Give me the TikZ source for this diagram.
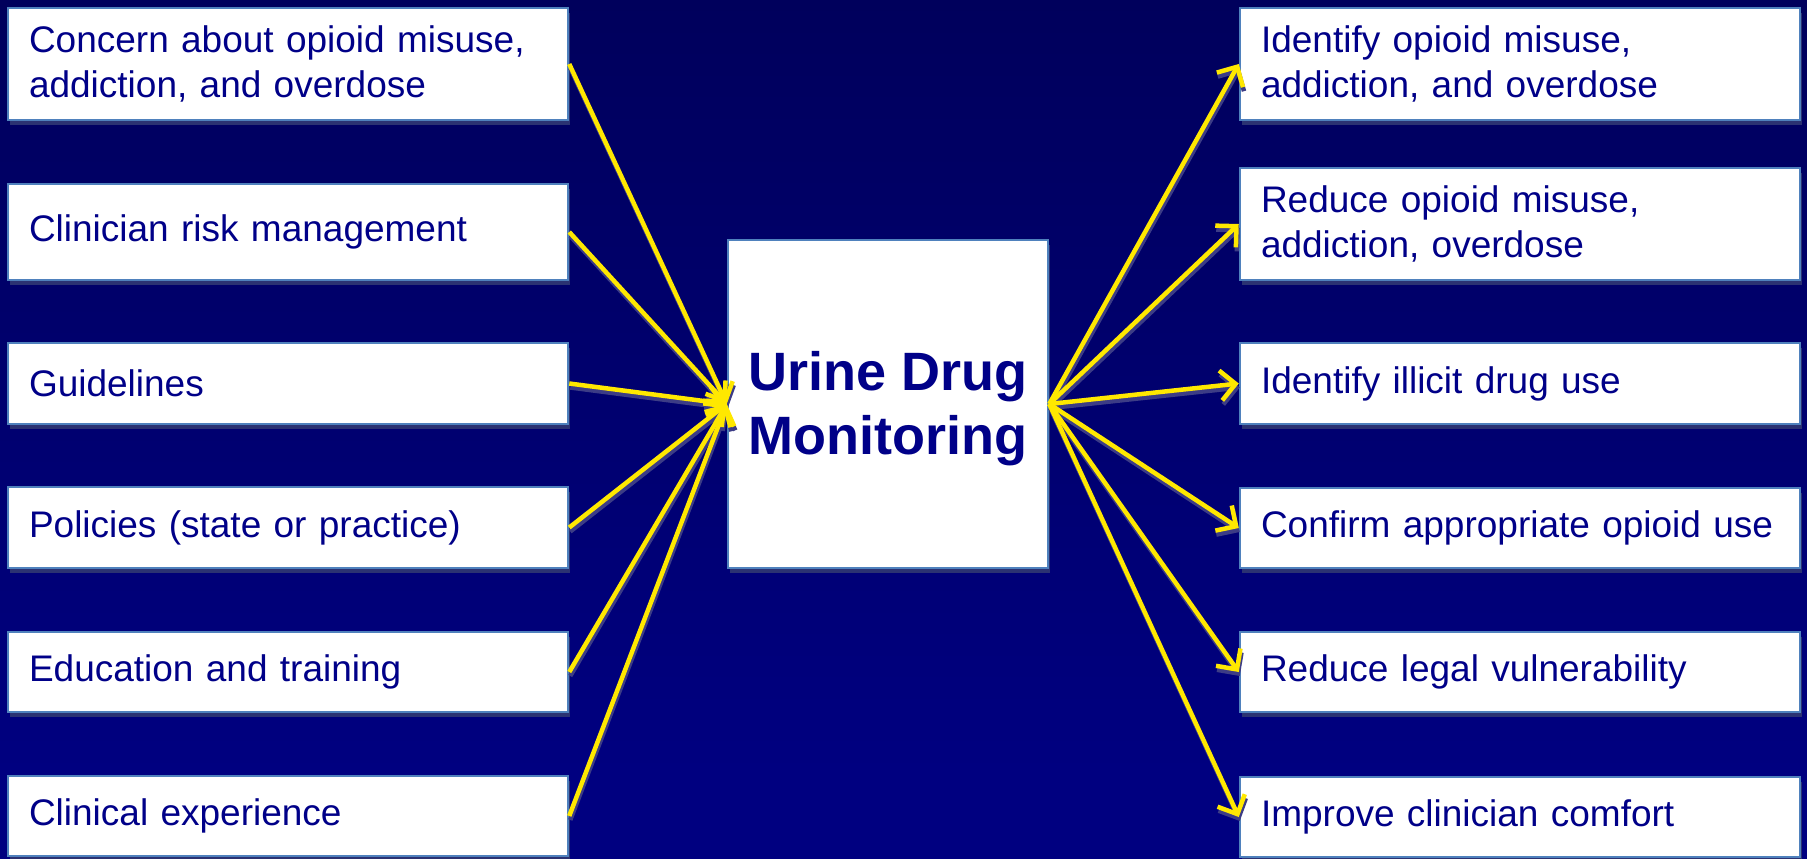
\documentclass[tikz,border=0pt]{standalone}
\usepackage{fontspec}
\setmainfont{Liberation Sans}
\usetikzlibrary{arrows.meta,shadows}

\definecolor{bgtop}{HTML}{000048}
\definecolor{bgbot}{HTML}{000080}
\definecolor{boxline}{HTML}{4F81BD}
\definecolor{boxshade}{HTML}{2B3272}
\definecolor{ink}{HTML}{000088}
\definecolor{ray}{HTML}{FFE800}
\definecolor{rayshade}{HTML}{3C3C86}

\pgfdeclareverticalshading{slidebg}{100bp}{%
  color(0bp)=(bgbot); color(30bp)=(bgbot); color(100bp)=(bgtop)}

\tikzset{
  factor/.style={draw=boxline, line width=2.5pt, fill=white, rectangle,
    minimum width=560pt, text width=518pt, inner xsep=21pt, inner ysep=0pt,
    align=left, text=ink, font=\fontsize{37}{45}\selectfont,
    general shadow={fill=boxshade, shadow xshift=1.5pt, shadow yshift=-5pt}},
  hub/.style={draw=boxline, line width=2.5pt, fill=white, rectangle,
    minimum width=320pt, minimum height=328pt, text=ink,
    font=\fontsize{54}{64}\selectfont\bfseries,
    general shadow={fill=boxshade, shadow xshift=1.5pt, shadow yshift=-5pt}},
  link/.style={draw=ray, line width=4.5pt,
    -{Straight Barb[length=15pt,width=30pt,line width=4.5pt]}},
  linkshade/.style={draw=rayshade, line width=4.5pt,
    -{Straight Barb[length=15pt,width=30pt,line width=4.5pt]},
    transform canvas={shift={(1pt,-4pt)}}}
}

\begin{document}
\begin{tikzpicture}[x=1pt,y=-1pt]
  % slide background
  \shade[shading=slidebg] (0,0) rectangle (1807,859);
  \useasboundingbox (0,0) rectangle (1807,859);

  % central box (title set a little below the box centre)
  \node[hub] (udm) at (888,404)
    {\raisebox{-6pt}[\height][\depth]{\begin{tabular}{@{}c@{}}Urine Drug\\Monitoring\end{tabular}}};

  % drivers (left column)
  \node[factor, minimum height=112pt] (l1) at (288,64)
    {Concern about opioid misuse,\\addiction, and overdose};
  \node[factor, minimum height=96pt] (l2) at (288,232)
    {Clinician risk management};
  \node[factor, minimum height=81pt] (l3) at (288,383.5)
    {Guidelines};
  \node[factor, minimum height=81pt] (l4) at (288,527.5)
    {Policies (state or practice)};
  \node[factor, minimum height=80pt] (l5) at (288,672)
    {Education and training};
  \node[factor, minimum height=80pt] (l6) at (288,816)
    {Clinical experience};

  % goals (right column)
  \node[factor, minimum height=112pt] (r1) at (1520,64)
    {Identify opioid misuse,\\addiction, and overdose};
  \node[factor, minimum height=112pt] (r2) at (1520,224)
    {Reduce opioid misuse,\\addiction, overdose};
  \node[factor, minimum height=81pt] (r3) at (1520,383.5)
    {Identify illicit drug use};
  \node[factor, minimum height=80pt] (r4) at (1520,528)
    {Confirm appropriate opioid use};
  \node[factor, minimum height=80pt] (r5) at (1520,672)
    {Reduce legal vulnerability};
  \node[factor, minimum height=80pt] (r6) at (1520,817)
    {Improve clinician comfort};

  % arrow shadows
  \foreach \n in {l1,l2,l3,l4,l5,l6}
    \draw[linkshade] (\n.east) -- (udm.west);
  \foreach \n in {r1,r2,r3,r4,r5,r6}
    \draw[linkshade] (udm.east) -- (\n.west);

  % arrows
  \foreach \n in {l1,l2,l3,l4,l5,l6}
    \draw[link] (\n.east) -- (udm.west);
  \foreach \n in {r1,r2,r3,r4,r5,r6}
    \draw[link] (udm.east) -- (\n.west);
\end{tikzpicture}
\end{document}
